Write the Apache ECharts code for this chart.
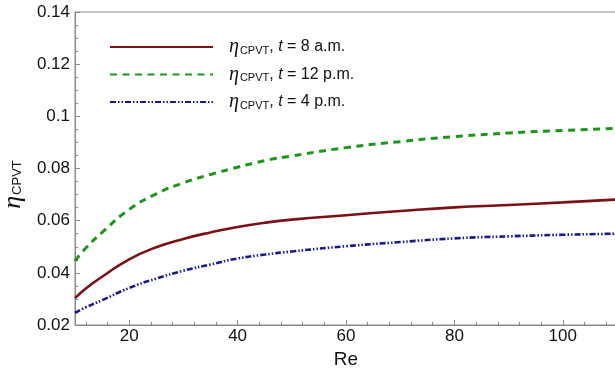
<!DOCTYPE html>
<html>
<head>
<meta charset="utf-8">
<script src="https://cdn.jsdelivr.net/npm/echarts@6/dist/echarts.min.js"></script>
<style>
  html, body { margin: 0; padding: 0; background: #fff; }
  #chart { width: 615px; height: 373px; }
</style>
</head>
<body>
<div id="chart"></div>
<script>
// Re values sampled along the curves
const reValues = [10, 12, 15, 20, 25, 30, 35, 40, 45, 50, 60, 70, 80, 90, 100, 110];
// eta_CPVT
const eta8am = [0.0303, 0.0340, 0.0385, 0.0452, 0.0498, 0.0530, 0.0555, 0.0576, 0.0592, 0.0604, 0.0621, 0.0637, 0.0651, 0.0660, 0.0670, 0.0681];
const eta12pm = [0.0446, 0.0495, 0.0555, 0.0643, 0.0703, 0.0745, 0.0777, 0.0805, 0.0830, 0.0848, 0.0880, 0.0903, 0.0922, 0.0936, 0.0946, 0.0954];
const eta4pm = [0.0247, 0.0268, 0.0295, 0.0342, 0.0378, 0.0408, 0.0432, 0.0455, 0.0470, 0.0482, 0.0502, 0.0518, 0.0532, 0.0540, 0.0546, 0.0550];
const seriesNames = ['8 a.m.', '12 p.m.', '4 p.m.'];
// x axis ticks
const xMajorTicks = [20, 40, 60, 80, 100];
const xMinorTicks = [12, 16, 24, 28, 32, 36, 44, 48, 52, 56, 64, 68, 72, 76, 84, 88, 92, 96, 104, 108];

const frameColor = '#8a8a8a';
const labelFont = 'Liberation Sans, Arial, Helvetica, sans-serif';

function pairs(ys) {
  return reValues.map((x, i) => [x, ys[i]]);
}

const legendRich = {
  eta: { fontFamily: 'Liberation Serif, serif', fontStyle: 'italic', fontSize: 20, color: '#111', lineHeight: 20 },
  sub: { fontFamily: labelFont, fontSize: 11, color: '#111', padding: [7, 0, 0, 1], lineHeight: 20 },
  it: { fontFamily: labelFont, fontStyle: 'italic', fontSize: 16, color: '#111', lineHeight: 20 },
  n: { fontFamily: labelFont, fontSize: 16, color: '#111', lineHeight: 20 },
};

const chart = echarts.init(document.getElementById('chart'), null, { renderer: 'canvas' });

const axisTickBase = { inside: true, lineStyle: { color: frameColor, width: 1 } };

chart.setOption({
  animation: false,
  backgroundColor: '#fff',
  grid: {
    left: 75, top: 12, width: 542, height: 313,
    outerBoundsMode: 'none',
    containLabel: false,
    show: true, borderColor: frameColor, borderWidth: 1, backgroundColor: 'transparent',
  },
  legend: {
    orient: 'vertical',
    left: 104,
    top: 32,
    itemWidth: 103,
    itemHeight: 20,
    itemGap: 7.5,
    data: seriesNames,
    itemStyle: { opacity: 0 },
    formatter: (name) => `{eta|η}{sub|CPVT}{n|, }{it|t}{n| = ${name}}`,
    textStyle: { rich: legendRich, padding: [0, 0, 0, 11] },
  },
  xAxis: [
    {
      type: 'value',
      min: 10,
      max: 110,
      name: 'Re',
      nameLocation: 'middle',
      nameGap: 23,
      nameTextStyle: { fontFamily: labelFont, fontSize: 19, color: '#111' },
      axisLine: { show: true, lineStyle: { color: frameColor } },
      axisTick: { ...axisTickBase, length: 5, customValues: xMajorTicks },
      axisLabel: { customValues: xMajorTicks, fontFamily: labelFont, fontSize: 17, color: '#111', margin: 3 },
      splitLine: { show: false },
    },
    {
      type: 'value',
      min: 10,
      max: 110,
      position: 'bottom',
      axisLine: { show: false },
      axisTick: { ...axisTickBase, length: 3, customValues: xMinorTicks },
      axisLabel: { show: false },
      splitLine: { show: false },
    },
  ],
  yAxis: {
    type: 'value',
    min: 0.02,
    max: 0.14,
    interval: 0.02,
    name: '{e|η}{s|CPVT}',
    nameLocation: 'middle',
    nameGap: 48,
    nameRotate: 90,
    nameTextStyle: {
      padding: [0, 32, 0, 0],
      rich: {
        e: { fontFamily: 'Liberation Serif, serif', fontStyle: 'italic', fontSize: 26, color: '#111' },
        s: { fontFamily: labelFont, fontSize: 13, color: '#111', padding: [9, 0, 0, 1] },
      },
    },
    axisLine: { show: true, lineStyle: { color: frameColor } },
    axisTick: { ...axisTickBase, length: 5 },
    minorTick: { show: true, splitNumber: 4, length: 3, lineStyle: { color: frameColor } },
    axisLabel: { fontFamily: labelFont, fontSize: 17, color: '#111', margin: 5 },
    splitLine: { show: false },
  },
  series: [
    {
      name: seriesNames[0],
      type: 'line',
      xAxisIndex: 0,
      smooth: true,
      showSymbol: false,
      symbol: 'none',
      color: '#7b1016',
      lineStyle: { color: '#7b1016', width: 2.6, type: 'solid' },
      data: pairs(eta8am),
    },
    {
      name: seriesNames[1],
      type: 'line',
      xAxisIndex: 0,
      smooth: true,
      showSymbol: false,
      symbol: 'none',
      color: '#1c951c',
      lineStyle: { color: '#1c951c', width: 3, type: [7, 5.5] },
      data: pairs(eta12pm),
    },
    {
      name: seriesNames[2],
      type: 'line',
      xAxisIndex: 0,
      smooth: true,
      showSymbol: false,
      symbol: 'none',
      color: '#19198c',
      lineStyle: { color: '#19198c', width: 2.6, type: [6, 2, 1.5, 2, 1.5, 2] },
      data: pairs(eta4pm),
    },
  ],
});
</script>
</body>
</html>
